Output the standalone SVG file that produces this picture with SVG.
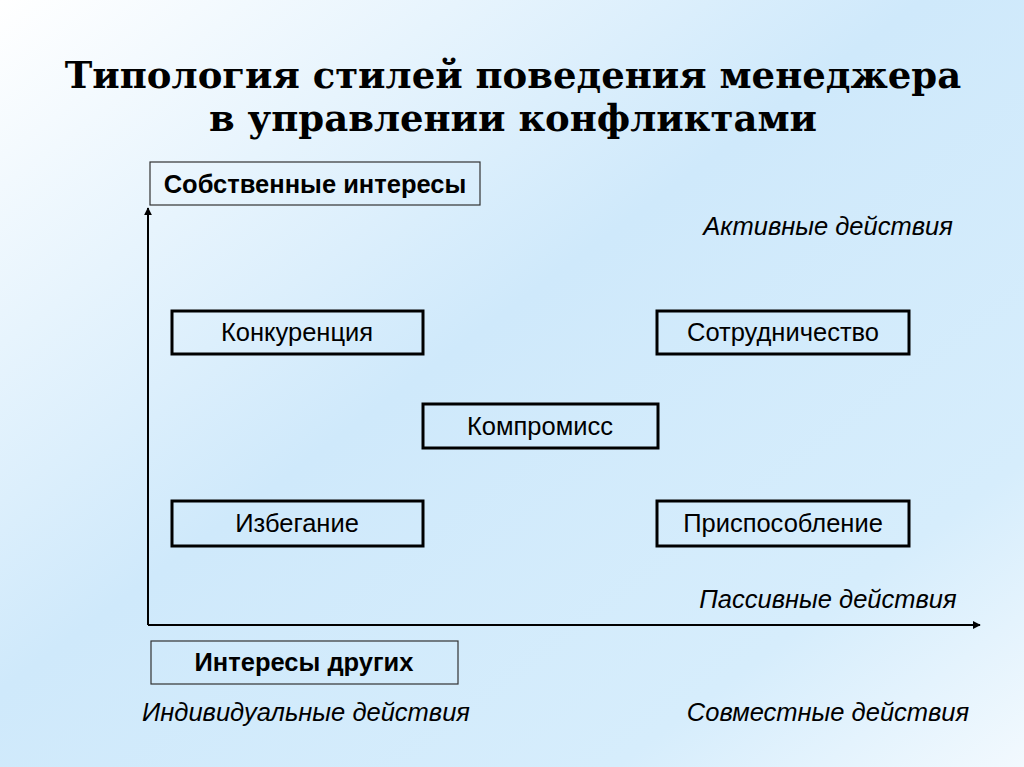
<svg xmlns="http://www.w3.org/2000/svg" width="1024" height="767" viewBox="0 0 1024 767">
<defs>
<linearGradient id="bg" x1="0" y1="0" x2="1" y2="1">
<stop offset="0" stop-color="#ffffff"/>
<stop offset="0.45" stop-color="#cfe9fb"/>
<stop offset="0.8" stop-color="#d6edfc"/>
<stop offset="1" stop-color="#f2f9fe"/>
</linearGradient>
<marker id="arr" viewBox="0 0 10 10" refX="9" refY="5" markerWidth="8" markerHeight="8" markerUnits="userSpaceOnUse" orient="auto">
<path d="M0,0 L10,5 L0,10 z" fill="#000"/>
</marker>
<style>
.title{font-family:"DejaVu Serif","Liberation Serif",serif;font-weight:bold;font-size:37px;fill:#000;text-anchor:middle}
.box{fill:none;stroke:#000;stroke-width:3}
.hbox{fill:none;stroke:#333;stroke-width:1.2}
.lbl{font-family:"Liberation Sans",Arial,sans-serif;font-size:25.5px;fill:#000;text-anchor:middle}
.blbl{font-family:"Liberation Sans",Arial,sans-serif;font-size:25.5px;font-weight:bold;fill:#000;text-anchor:middle}
.it{font-family:"Liberation Sans",Arial,sans-serif;font-size:25.5px;font-style:italic;fill:#000;text-anchor:middle}
.ax{stroke:#000;stroke-width:2;fill:none}
</style>
</defs>
<rect width="1024" height="767" fill="url(#bg)"/>
<text class="title" x="513" y="88">Типология стилей поведения менеджера</text>
<text class="title" x="513" y="131">в управлении конфликтами</text>
<g id="connectors">
<line class="ax" x1="148" y1="625" x2="148" y2="208" marker-end="url(#arr)"/>
<line class="ax" x1="148" y1="625" x2="980" y2="625" marker-end="url(#arr)"/>
</g>
<g id="own-interests">
<rect class="hbox" x="150" y="162" width="330" height="43"/>
<text class="blbl" x="315" y="193">Собственные интересы</text>
</g>
<g id="others-interests">
<rect class="hbox" x="151" y="641" width="307" height="43"/>
<text class="blbl" x="304" y="671">Интересы других</text>
</g>
<g id="competition">
<rect class="box" x="172" y="311" width="251" height="43"/>
<text class="lbl" x="297" y="341">Конкуренция</text>
</g>
<g id="cooperation">
<rect class="box" x="657" y="311" width="252" height="43"/>
<text class="lbl" x="783" y="341">Сотрудничество</text>
</g>
<g id="compromise">
<rect class="box" x="423" y="404" width="235" height="44"/>
<text class="lbl" x="540" y="435">Компромисс</text>
</g>
<g id="avoidance">
<rect class="box" x="172" y="501" width="251" height="45"/>
<text class="lbl" x="297" y="532">Избегание</text>
</g>
<g id="accommodation">
<rect class="box" x="657" y="501" width="252" height="45"/>
<text class="lbl" x="783" y="532">Приспособление</text>
</g>
<text class="it" x="828" y="235">Активные действия</text>
<text class="it" x="828" y="608">Пассивные действия</text>
<text class="it" x="306" y="721">Индивидуальные действия</text>
<text class="it" x="828" y="721">Совместные действия</text>
</svg>
